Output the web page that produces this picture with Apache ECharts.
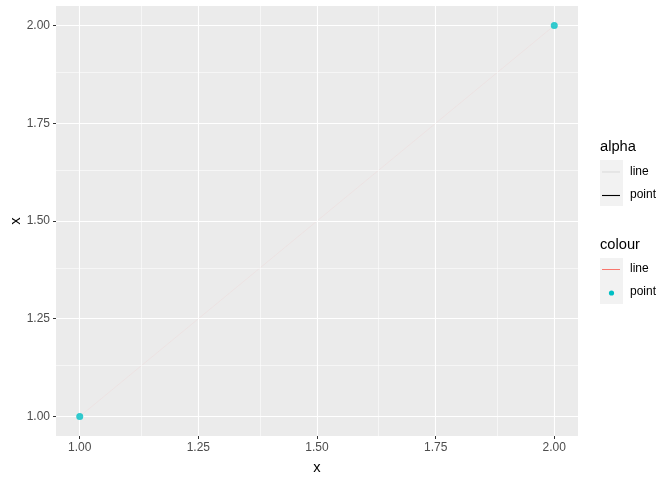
<!DOCTYPE html>
<html><head><meta charset="utf-8">
<script src="https://cdn.jsdelivr.net/npm/echarts@6/dist/echarts.min.js"></script>
<style>html,body{margin:0;padding:0;background:#fff}#c{width:672px;height:480px}</style>
</head><body><div id="c"></div>
<script>
const xVals = [1, 2];
const yVals = [1, 2];
const majorTicks = [1.00, 1.25, 1.50, 1.75, 2.00];
const minorTicks = [1.125, 1.375, 1.625, 1.875];
const tickLabels = ['1.00', '1.25', '1.50', '1.75', '2.00'];
const axisMin = 0.95, axisMax = 2.05;

const pts = xVals.map((x, i) => [x, yVals[i]]);
const F = 'Liberation Sans, Arial, sans-serif';

function gridLines(vals, w) {
  const d = [];
  vals.forEach(v => { d.push({xAxis: v, lineStyle: {width: w}}); d.push({yAxis: v, lineStyle: {width: w}}); });
  return d;
}

const chart = echarts.init(document.getElementById('c'), null, {renderer: 'canvas'});
const axisCommon = {
  type: 'value', min: axisMin, max: axisMax,
  splitLine: {show: false},
  axisLine: {show: false},
  axisTick: {show: true, customValues: majorTicks, length: 3, lineStyle: {color: '#333333', width: 1}},
  axisLabel: {customValues: majorTicks, color: '#4D4D4D', fontSize: 12, fontFamily: F,
    formatter: v => tickLabels[majorTicks.findIndex(t => Math.abs(t - v) < 1e-9)] || ''},
  nameTextStyle: {color: '#000', fontSize: 14.7, fontFamily: F}
};
chart.setOption({
  animation: false,
  grid: {left: 56, right: 94, top: 6, bottom: 44, show: true, backgroundColor: '#EBEBEB', borderWidth: 0,
    containLabel: false, outerBoundsMode: 'none'},
  xAxis: Object.assign({}, axisCommon, {name: 'x', nameLocation: 'middle', nameGap: 24, nameMoveOverlap: false,
    axisLabel: Object.assign({}, axisCommon.axisLabel, {margin: 6})}),
  yAxis: Object.assign({}, axisCommon, {name: 'x', nameLocation: 'middle', nameGap: 33, nameRotate: 90, nameMoveOverlap: false,
    axisLabel: Object.assign({}, axisCommon.axisLabel, {margin: 6})}),
  series: [
    {type: 'line', data: [], silent: true, z: 1,
      markLine: {silent: true, symbol: 'none', label: {show: false}, animation: false,
        lineStyle: {color: '#FFFFFF', type: 'solid'},
        data: gridLines(minorTicks, 0.55).concat(gridLines(majorTicks, 1.1))}},
    {type: 'line', data: pts, symbol: 'none', lineStyle: {color: 'rgba(248,118,109,0.12)', width: 0.6}, z: 3},
    {type: 'scatter', data: pts, symbolSize: 7, itemStyle: {color: '#00BFC4'}, z: 10}
  ],
  graphic: [
    {type: 'text', left: 600, top: 139, style: {text: 'alpha', fontSize: 14.7, fontFamily: F, fill: '#000'}},
    {type: 'rect', shape: {x: 600, y: 160, width: 23, height: 46}, style: {fill: '#F2F2F2'}},
    {type: 'line', shape: {x1: 602, y1: 172, x2: 620, y2: 172}, style: {stroke: '#D9D9D9', lineWidth: 1}},
    {type: 'line', shape: {x1: 602, y1: 195.5, x2: 620, y2: 195.5}, style: {stroke: '#000', lineWidth: 1.1}},
    {type: 'text', left: 630, top: 166, style: {text: 'line', fontSize: 12, fontFamily: F, fill: '#000'}},
    {type: 'text', left: 630, top: 189, style: {text: 'point', fontSize: 12, fontFamily: F, fill: '#000'}},
    {type: 'text', left: 600, top: 237, style: {text: 'colour', fontSize: 14.7, fontFamily: F, fill: '#000'}},
    {type: 'rect', shape: {x: 600, y: 258, width: 23, height: 46}, style: {fill: '#F2F2F2'}},
    {type: 'line', shape: {x1: 602, y1: 269.5, x2: 620, y2: 269.5}, style: {stroke: '#F8766D', lineWidth: 1}},
    {type: 'circle', shape: {cx: 611.5, cy: 293, r: 2.6}, style: {fill: '#00BFC4'}},
    {type: 'text', left: 630, top: 263, style: {text: 'line', fontSize: 12, fontFamily: F, fill: '#000'}},
    {type: 'text', left: 630, top: 286, style: {text: 'point', fontSize: 12, fontFamily: F, fill: '#000'}}
  ]
});
</script></body></html>
